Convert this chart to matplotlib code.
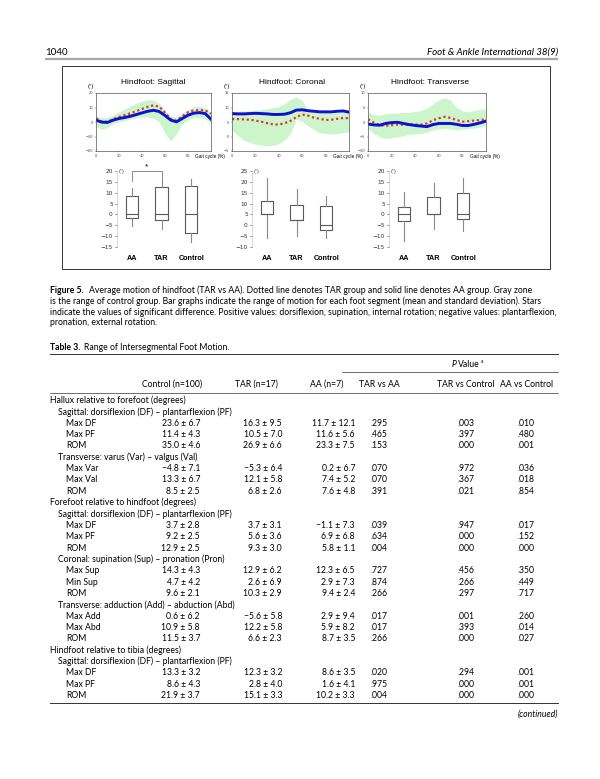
import matplotlib
matplotlib.use("Agg")
import matplotlib.pyplot as plt
from matplotlib.patches import Rectangle

# page size in pixels (dpi 100)
W, H = 600, 779
BODY = ['Lato', 'DejaVu Sans']
FIGF = ['Liberation Sans', 'DejaVu Sans']

# ---- gait curves, read every 5 % of the gait cycle ----
gait_pct = [0, 5, 10, 15, 20, 25, 30, 35, 40, 45, 50, 55, 60, 65, 70, 75, 80, 85, 90, 95, 100]

sag_aa = [1.3, -0.1, -0.3, 1.3, 2.4, 3.1, 4.0, 5.1, 6.3, 7.4, 8.1, 7.2, 4.5, 1.3, 0.1, 2.4, 4.7, 6.1, 6.5, 5.8, 1.9]
sag_tar = [2.5, 0.3, 0.2, 2.0, 3.5, 4.8, 6.0, 7.5, 9.0, 10.5, 11.5, 10.5, 6.5, 2.0, 1.0, 4.0, 6.8, 8.0, 8.3, 8.0, 5.8]
sag_ctrl_hi = [4, 3, 3, 5, 7, 9, 11, 13, 14.5, 15.5, 15, 13, 8, 4, 3, 6, 8.5, 10.5, 10.8, 10, 6]
sag_ctrl_lo = [-3, -5, -4, -1, 0, 1, 2, 3, 3.5, 3.5, 2.5, 0, -8, -13, -8, -1, 1.5, 3, 3, 2, -1]

cor_aa = [7.9, 7.8, 7.8, 7.9, 8.0, 7.9, 7.8, 7.6, 7.6, 7.7, 8.2, 9.1, 9.2, 8.9, 8.7, 8.5, 8.5, 8.5, 8.7, 8.8, 8.4]
cor_tar = [6.0, 6.0, 5.9, 5.8, 5.5, 5.1, 4.6, 4.2, 4.1, 4.6, 5.4, 6.7, 7.6, 7.2, 6.5, 6.1, 5.7, 5.8, 6.1, 6.4, 6.3]
cor_ctrl_hi = [8.5, 8.6, 8.7, 8.9, 9.1, 9.3, 9.6, 9.9, 10.4, 11.3, 12.8, 13.6, 12.4, 9.1, 8.7, 8.5, 8.3, 8.1, 8.2, 8.4, 8.5]
cor_ctrl_lo = [2.2, 0.3, -1.2, -2.0, -2.7, -3.0, -3.2, -3.0, -2.5, -1.2, 1.0, 6.0, 5.2, 3.6, 2.4, 1.3, 1.0, 0.8, 1.0, 1.3, 1.6]

tra_aa = [-0.7, -1.0, -1.1, -0.5, -0.2, -0.1, -0.5, -0.9, -1.2, -1.4, -1.6, -0.9, -0.5, -0.5, -0.5, -0.8, -1.2, -1.2, -0.8, -0.3, 0.3]
tra_tar = [0.9, -0.2, -1.1, -1.3, -1.1, -0.9, -0.9, -0.9, -0.9, -0.9, -0.5, 0.6, 1.3, 1.8, 1.4, 0.7, 0.1, 0.3, 0.5, 0.7, 0.9]
tra_ctrl_hi = [3.5, 2.5, 2.4, 2.8, 3.0, 3.1, 3.3, 3.4, 3.6, 4.0, 4.8, 6.3, 7.6, 8.4, 7.5, 5.0, 3.8, 3.5, 4.0, 4.4, 4.6]
tra_ctrl_lo = [-2.2, -4.0, -5.2, -5.6, -5.6, -5.1, -4.7, -4.3, -4.1, -3.9, -3.5, -2.8, -2.4, -2.2, -2.4, -2.8, -2.5, -2.2, -2.1, -1.7, -1.1]

# ---- range of motion box plots: (whisker low, q1, median, q3, whisker high) ----
box_groups = ["AA", "TAR", "Control"]
sag_box = [(-5.5, -1.5, 0, 8.5, 12), (-6.5, -2.5, 0, 12.5, 15.5), (-12.5, -8.5, 0, 13.3, 16.5)]
cor_box = [(-6, 5, 5, 11, 22), (-5, 2.5, 2.5, 9.5, 16.5), (-6, -2, 0, 9, 13.5)]
tra_box = [(-12.2, -3.2, 0.3, 3.5, 10.5), (-6.5, 0, 0, 8, 14.5), (-7.8, -2, 0.2, 9.8, 17)]

# ---- table 3 ----
row_labels = [
    "Hallux relative to forefoot (degrees)",
    "Sagittal: dorsiflexion (DF) \u2013 plantarflexion (PF)",
    "Max DF", "Max PF", "ROM",
    "Transverse: varus (Var) \u2013 valgus (Val)",
    "Max Var", "Max Val", "ROM",
    "Forefoot relative to hindfoot (degrees)",
    "Sagittal: dorsiflexion (DF) \u2013 plantarflexion (PF)",
    "Max DF", "Max PF", "ROM",
    "Coronal: supination (Sup) \u2013 pronation (Pron)",
    "Max Sup", "Min Sup", "ROM",
    "Transverse: adduction (Add) \u2013 abduction (Abd)",
    "Max Add", "Max Abd", "ROM",
    "Hindfoot relative to tibia (degrees)",
    "Sagittal: dorsiflexion (DF) \u2013 plantarflexion (PF)",
    "Max DF", "Max PF", "ROM",
]
row_levels = [0, 1, 2, 2, 2, 1, 2, 2, 2, 0, 1, 2, 2, 2, 1, 2, 2, 2, 1, 2, 2, 2, 0, 1, 2, 2, 2]
control_vals = ["", "", "23.6 ± 6.7", "11.4 ± 4.3", "35.0 ± 4.6", "", "\u22124.8 ± 7.1", "13.3 ± 6.7", "8.5 ± 2.5",
                "", "", "3.7 ± 2.8", "9.2 ± 2.5", "12.9 ± 2.5", "", "14.3 ± 4.3", "4.7 ± 4.2", "9.6 ± 2.1",
                "", "0.6 ± 6.2", "10.9 ± 5.8", "11.5 ± 3.7", "", "", "13.3 ± 3.2", "8.6 ± 4.3", "21.9 ± 3.7"]
tar_vals = ["", "", "16.3 ± 9.5", "10.5 ± 7.0", "26.9 ± 6.6", "", "\u22125.3 ± 6.4", "12.1 ± 5.8", "6.8 ± 2.6",
            "", "", "3.7 ± 3.1", "5.6 ± 3.6", "9.3 ± 3.0", "", "12.9 ± 6.2", "2.6 ± 6.9", "10.3 ± 2.9",
            "", "\u22125.6 ± 5.8", "12.2 ± 5.8", "6.6 ± 2.3", "", "", "12.3 ± 3.2", "2.8 ± 4.0", "15.1 ± 3.3"]
aa_vals = ["", "", "11.7 ± 12.1", "11.6 ± 5.6", "23.3 ± 7.5", "", "0.2 ± 6.7", "7.4 ± 5.2", "7.6 ± 4.8",
           "", "", "\u22121.1 ± 7.3", "6.9 ± 6.8", "5.8 ± 1.1", "", "12.3 ± 6.5", "2.9 ± 7.3", "9.4 ± 2.4",
           "", "2.9 ± 9.4", "5.9 ± 8.2", "8.7 ± 3.5", "", "", "8.6 ± 3.5", "1.6 ± 4.1", "10.2 ± 3.3"]
p_tar_aa = ["", "", ".295", ".465", ".153", "", ".070", ".070", ".391", "", "", ".039", ".634", ".004", "",
            ".727", ".874", ".266", "", ".017", ".017", ".266", "", "", ".020", ".975", ".004"]
p_tar_ctrl = ["", "", ".003", ".397", ".000", "", ".972", ".367", ".021", "", "", ".947", ".000", ".000", "",
              ".456", ".266", ".297", "", ".001", ".393", ".000", "", "", ".294", ".000", ".000"]
p_aa_ctrl = ["", "", ".010", ".480", ".001", "", ".036", ".018", ".854", "", "", ".017", ".152", ".000", "",
             ".350", ".449", ".717", "", ".260", ".014", ".027", "", "", ".001", ".001", ".000"]
col_heads = ["Control (n=100)", "TAR (n=17)", "AA (n=7)", "TAR vs AA", "TAR vs Control", "AA vs Control"]

caption = [
    "Average motion of hindfoot (TAR vs AA). Dotted line denotes TAR group and solid line denotes AA group. Gray zone",
    "is the range of control group. Bar graphs indicate the range of motion for each foot segment (mean and standard deviation). Stars",
    "indicate the values of significant difference. Positive values: dorsiflexion, supination, internal rotation; negative values: plantarflexion,",
    "pronation, external rotation.",
]

fig = plt.figure(figsize=(W / 100, H / 100), dpi=100, facecolor='white')
page = fig.add_axes([0, 0, 1, 1])
page.set_xlim(0, W)
page.set_ylim(H, 0)
page.axis('off')
renderer = fig.canvas.get_renderer()

LEFT, RIGHT = 50, 558


def px_axes(x0, y0, x1, y1):
    return fig.add_axes([x0 / W, 1 - y1 / H, (x1 - x0) / W, (y1 - y0) / H])


def put(x, y, s, size, **kw):
    kw.setdefault('family', BODY)
    kw.setdefault('va', 'center')
    return page.text(x, y, s, fontsize=size, **kw)


def put_runs(x, y, runs, size, gap=0.0):
    for s, style in runs:
        t = put(x, y, s, size, **style)
        x += t.get_window_extent(renderer).width + gap
    return x


# running head
put(45, 52, "1040", 7.0)
put(RIGHT, 52, "Foot & Ankle International 38(9)", 7.0, ha='right', style='italic')
page.plot([45, RIGHT], [59, 59], color='#a8a8a8', lw=1.6, solid_capstyle='butt')

# figure frame
page.add_patch(Rectangle((62, 66), 488, 203, fill=False, lw=0.7, ec='#333333'))

# ---- gait curve panels ----
curves = [
    ("Hindfoot: Sagittal", sag_aa, sag_tar, sag_ctrl_lo, sag_ctrl_hi, (-20, 20), [-20, -10, 0, 10, 20], 96, 211, 153),
    ("Hindfoot: Coronal", cor_aa, cor_tar, cor_ctrl_lo, cor_ctrl_hi, (-5, 15), [-5, 0, 5, 10, 15], 232, 349, 292),
    ("Hindfoot: Transverse", tra_aa, tra_tar, tra_ctrl_lo, tra_ctrl_hi, (-10, 10), [-10, -5, 0, 5, 10], 368, 486, 430),
]
for title, aa, tar, lo, hi, ylim, yt, x0, x1, tx in curves:
    ax = px_axes(x0, 93, x1, 151)
    ax.fill_between(gait_pct, lo, hi, color='#ccf5cc', lw=0)
    ax.plot(gait_pct, tar, color='#e3342a', lw=1.6, ls=(0, (1, 1.2)))
    ax.plot(gait_pct, aa, color='#1010d0', lw=2.1)
    ax.set_xlim(0, 100)
    ax.set_ylim(*ylim)
    ax.set_xticks([0, 20, 40, 60, 80])
    ax.set_yticks(yt)
    ax.tick_params(labelsize=2.6, length=1, width=0.3, pad=1, colors='#444444')
    for sp in ax.spines.values():
        sp.set_linewidth(0.5)
        sp.set_color('#555555')
    put(tx, 82, title, 6.0, family=FIGF, ha='center')
    put(x0 - 5, 86, "(\u00b0)", 4.2, family=FIGF, ha='center')
    put(x1 - 16, 156, "Gait cycle (%)", 3.4, family=FIGF)

# ---- box plot panels ----
boxes = [
    (sag_box, (-15, 20), 117, 206),
    (cor_box, (-10, 25), 252, 341),
    (tra_box, (-15, 20), 389, 478),
]
for i, (stats, ylim, x0, x1) in enumerate(boxes):
    ax = px_axes(x0, 171, x1, 247)
    bstats = [dict(whislo=s[0], q1=s[1], med=s[2], q3=s[3], whishi=s[4], label=g)
              for s, g in zip(stats, box_groups)]
    ax.bxp(bstats, positions=[1, 2, 3], widths=0.42, showfliers=False, showcaps=False,
           boxprops=dict(color='#5a5a5a', lw=0.8),
           whiskerprops=dict(color='#8a8a8a', lw=0.8),
           medianprops=dict(color='#5a5a5a', lw=0.8))
    ax.set_xlim(0.5, 3.5)
    ax.set_ylim(*ylim)
    ax.set_yticks(range(ylim[0], ylim[1] + 1, 5))
    ax.tick_params(axis='y', labelsize=4.2, length=1.5, width=0.4, pad=1.5, colors='#333333')
    ax.tick_params(axis='x', length=0, pad=6)
    for lab in ax.get_xticklabels():
        lab.set_fontsize(5.2)
        lab.set_fontweight('bold')
        lab.set_family(FIGF)
    for side in ['top', 'right', 'bottom']:
        ax.spines[side].set_visible(False)
    ax.spines['left'].set_color('#bdbdbd')
    ax.spines['left'].set_linewidth(0.4)
    ax.text(0.57, ylim[1], "(\u00b0)", fontsize=3.8, family=FIGF, va='center', color='#444444')
    if i == 0:
        # significance bracket AA vs TAR
        sig_pair, sig_y, sig_drop = (1, 2), 20, 15.5
        ax.plot([sig_pair[0], sig_pair[0], sig_pair[1], sig_pair[1]], [sig_drop, sig_y, sig_y, sig_drop],
                color='#777777', lw=0.6, clip_on=False)
        ax.text(sum(sig_pair) / 2, sig_y + 0.3, "*", fontsize=6, ha='center', va='bottom', family=FIGF)

# ---- figure caption ----
FS = 6.2
cap_y = [290, 301, 312, 322.5]
x = put_runs(LEFT, cap_y[0], [("Figure 5.", dict(weight='bold'))], FS)
put(x + 5, cap_y[0], caption[0], FS)
for line, y in zip(caption[1:], cap_y[1:]):
    put(LEFT, y, line, FS)

# ---- table ----
TS = 6.2
x = put_runs(LEFT, 347, [("Table 3.", dict(weight='bold'))], TS)
put(x + 4, 347, "Range of Intersegmental Foot Motion.", TS)
page.plot([LEFT, RIGHT], [354, 354], color='#333333', lw=0.7)
x = put_runs(452, 364, [("P", dict(style='italic'))], TS, gap=1.5)
x = put_runs(x, 364, [("Value", {})], TS)
put(x + 0.5, 361.5, "a", 3.6)
page.plot([342, RIGHT], [372, 372], color='#333333', lw=0.5)

col_x = [172, 256, 327, 379, 466, 527]
for cx, h in zip(col_x, col_heads):
    put(cx, 384, h, TS, ha='center')
page.plot([LEFT, RIGHT], [393, 393], color='#333333', lw=0.5)

indent = [LEFT, 58, 66]
val_right = [200, 282, 355]
p_center = [379, 466, 526]
row_y0, row_dy = 400.5, 11.35
for r, lab in enumerate(row_labels):
    y = row_y0 + r * row_dy
    put(indent[row_levels[r]], y, lab, TS)
    for xr, col in zip(val_right, [control_vals, tar_vals, aa_vals]):
        if col[r]:
            put(xr, y, col[r], TS, ha='right')
    for xc, col in zip(p_center, [p_tar_aa, p_tar_ctrl, p_aa_ctrl]):
        if col[r]:
            put(xc, y, col[r], TS, ha='center')

y_end = row_y0 + (len(row_labels) - 1) * row_dy
page.plot([LEFT, RIGHT], [y_end + 7, y_end + 7], color='#333333', lw=0.7)
put(RIGHT, y_end + 18, "(continued)", TS, ha='right', style='italic')

fig.savefig("out.png", dpi=100, facecolor='white')
